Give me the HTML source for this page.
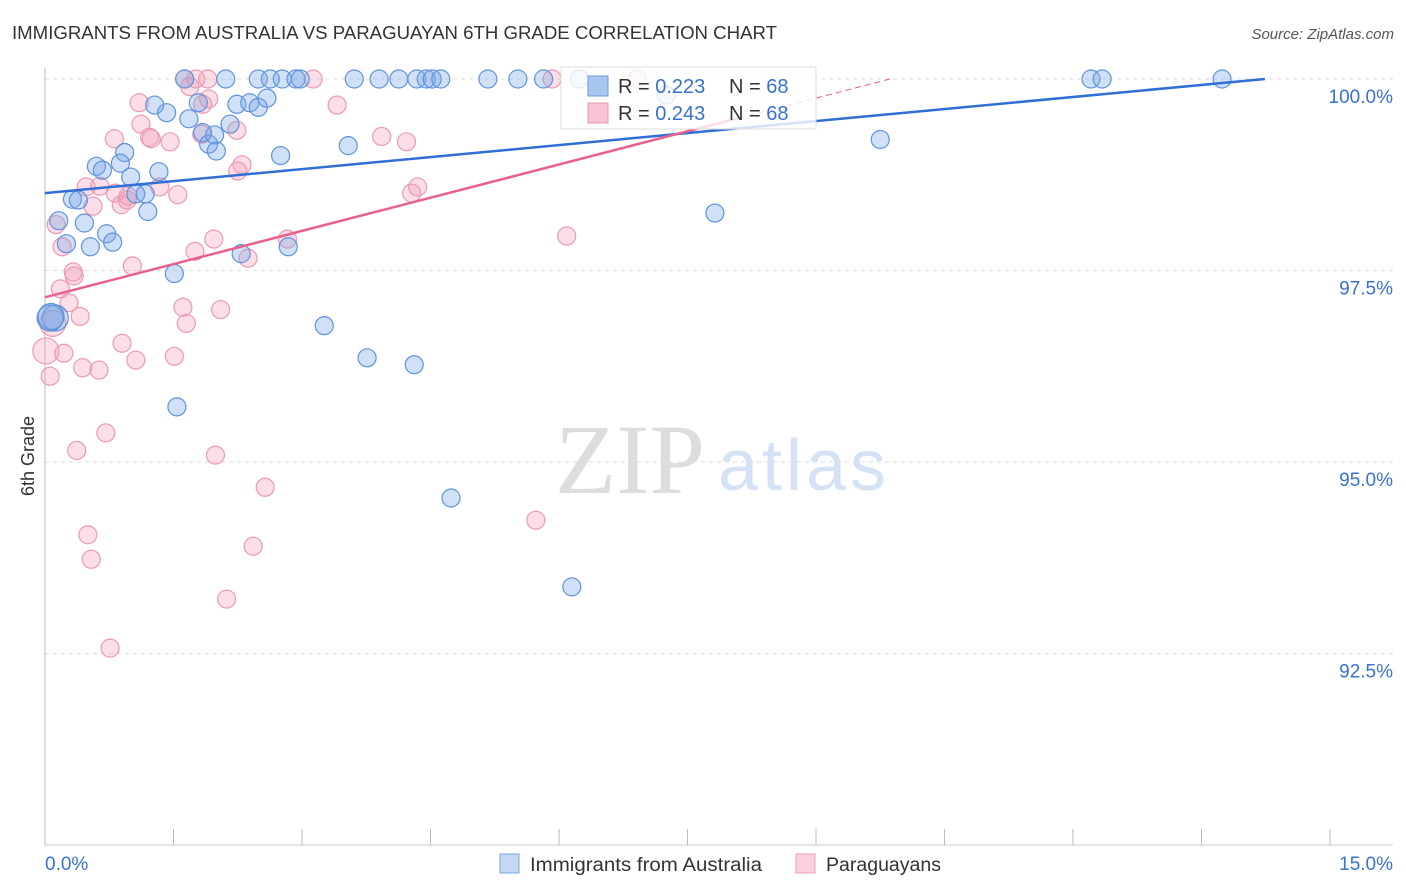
<!DOCTYPE html>
<html><head><meta charset="utf-8"><style>
body{margin:0;background:#fff;font-family:"Liberation Sans",sans-serif;}
#wrap{position:relative;width:1406px;height:892px;overflow:hidden;}
</style></head><body>
<div id="wrap">
<svg id="chart" width="1406" height="892">
<text x="12" y="39" font-size="18" fill="#333" textLength="765" lengthAdjust="spacingAndGlyphs">IMMIGRANTS FROM AUSTRALIA VS PARAGUAYAN 6TH GRADE CORRELATION CHART</text>
<text x="1394" y="39" font-size="15" fill="#555" font-style="italic" text-anchor="end">Source: ZipAtlas.com</text>
<text x="34" y="456" font-size="18" fill="#333" transform="rotate(-90 34 456)" text-anchor="middle">6th Grade</text>
<text x="555" y="493" font-size="100" fill="#ddd" font-family="Liberation Serif,serif">ZIP</text>
<text x="718" y="490" font-size="72" fill="#d5e2f5" textLength="168">atlas</text>
<g id="grid"></g><g id="pts"></g><g id="trend"></g>
<g>
<rect x="561" y="67" width="255" height="62" fill="#fff" fill-opacity="0.8" stroke="#ddd"/>
<rect x="588" y="76" width="20" height="20" fill="#a9c6ef" stroke="#6d9be0"/>
<rect x="588" y="103" width="20" height="20" fill="#f8c4d3" stroke="#e994ad"/>
<text x="618" y="93" font-size="20" fill="#333">R = <tspan fill="#3a70d0">0.223</tspan><tspan x="729">N = </tspan><tspan fill="#3a70d0">68</tspan></text>
<text x="618" y="120" font-size="20" fill="#333">R = <tspan fill="#3a70d0">0.243</tspan><tspan x="729">N = </tspan><tspan fill="#3a70d0">68</tspan></text>
</g>
<text x="45" y="870" font-size="19" fill="#3a70d0">0.0%</text>
<text x="1393" y="870" font-size="19" fill="#3a70d0" text-anchor="end">15.0%</text>
<rect x="500" y="854" width="19" height="19" fill="#c4d8f5" stroke="#7aa4e2"/>
<text x="530" y="871" font-size="19" fill="#333" textLength="232" lengthAdjust="spacingAndGlyphs">Immigrants from Australia</text>
<rect x="796" y="854" width="19" height="19" fill="#fad0dc" stroke="#ec9cb4"/>
<text x="826" y="871" font-size="19" fill="#333" textLength="115" lengthAdjust="spacingAndGlyphs">Paraguayans</text>
</svg></div>
<script>
const yTicks=[100,97.5,95,92.5];
const yTickLabels=["100.0%","97.5%","95.0%","92.5%"];
const blueX=[1.63,2.11,2.49,2.63,2.77,2.93,2.98,3.61,3.90,4.13,4.34,4.45,4.52,4.62,5.17,5.52,5.82,6.24,12.21,12.34,13.74,1.28,1.42,1.79,2.24,2.39,2.49,2.59,1.68,1.84,1.91,2.00,2.16,2.75,3.54,9.75,0.93,0.60,0.67,0.88,1.00,1.33,0.32,0.39,1.06,1.17,1.20,0.16,0.46,0.72,0.79,0.25,0.53,2.29,2.84,1.51,7.82,0.12,0.06,3.26,3.76,4.31,1.54,4.74,6.15,0.07,7.25,1.98];
const blueY=[100,100,100,100,100,100,100,100,100,100,100,100,100,100,100,100,100,100,100,100,100,99.66,99.56,99.69,99.67,99.69,99.63,99.75,99.48,99.30,99.15,99.06,99.41,99.00,99.13,99.21,99.04,98.86,98.81,98.90,98.72,98.79,98.43,98.42,98.50,98.50,98.27,98.15,98.12,97.98,97.87,97.85,97.81,97.72,97.81,97.46,98.25,96.88,96.88,96.78,96.36,96.27,95.72,94.53,93.37,96.90,99.79,99.27];
const pinkX=[1.63,1.90,3.13,5.92,6.91,1.69,1.91,1.10,1.84,3.41,1.12,0.81,1.24,1.46,1.22,1.83,2.24,3.93,4.22,2.30,2.25,0.48,0.64,0.82,1.34,1.55,0.89,0.56,0.96,0.97,4.28,4.35,0.13,0.20,0.34,0.33,0.18,0.28,1.02,1.75,1.97,2.37,2.83,6.09,1.61,1.65,2.05,0.41,0.09,0.01,0.22,0.06,0.44,0.63,0.90,1.06,1.51,0.37,0.71,1.99,2.57,0.50,0.54,2.43,2.12,0.76,5.73,1.76];
const pinkY=[100,100,100,100,100,99.90,99.74,99.69,99.67,99.66,99.41,99.22,99.22,99.18,99.24,99.28,99.33,99.25,99.18,98.88,98.80,98.59,98.60,98.51,98.59,98.49,98.36,98.34,98.42,98.47,98.51,98.59,98.10,97.81,97.43,97.48,97.26,97.08,97.56,97.75,97.91,97.66,97.91,97.95,97.02,96.81,96.99,96.90,96.81,96.45,96.42,96.12,96.23,96.20,96.55,96.33,96.38,95.15,95.38,95.09,94.67,94.05,93.73,93.90,93.21,92.57,94.24,100];
const blueTrend=[98.51,0.1046];
const pinkTrend=[97.15,0.289];
const NS="http://www.w3.org/2000/svg";
const X0=45,X1=1330,Y0=79,Y1=845;
function sx(v){return X0+(v/15)*(X1-X0);}
function sy(v){return Y0+(100-v)/10*(Y1-Y0);}
function mk(tag,attrs,parent){const e=document.createElementNS(NS,tag);for(const k in attrs)e.setAttribute(k,attrs[k]);parent.appendChild(e);return e;}
const grid=document.getElementById('grid');
yTicks.forEach((t,i)=>{
 const l=mk('line',{x1:X0,x2:1393,y1:sy(t),y2:sy(t),stroke:'#ddd','stroke-dasharray':'4,4'},grid);
 
 
 const tx=mk('text',{x:1393,y:sy(t)+24,'font-size':19,fill:'#3a70d0','text-anchor':'end'},grid);
 tx.textContent=yTickLabels[i];
 
 
});
const ax=mk('line',{x1:X0,x2:X0,y1:68,y2:Y1,stroke:'#bbb'},grid);


const bx=mk('line',{x1:X0,x2:1393,y1:Y1,y2:Y1,stroke:'#ccc'},grid);


for(let i=0;i<=10;i++){const v=i*1.5;
 const tk=mk('line',{x1:sx(v),x2:sx(v),y1:829,y2:Y1,stroke:'#bbb'},grid);
 
 }
const pts=document.getElementById('pts');
function drawPts(xs,ys,fill,stroke,name){
 xs.forEach((x,i)=>{const big=(x<0.15&&ys[i]>96.7&&ys[i]<97)||(x<0.02&&ys[i]>96.4&&ys[i]<96.5);
  const c=mk('circle',{cx:sx(x),cy:sy(ys[i]),r:big?13:9,fill:fill,stroke:stroke,'stroke-width':1.2},pts);
  
  });
}
drawPts(pinkX,pinkY,'rgba(244,160,185,0.35)','#eb9ab2','paraguayan-point');
drawPts(blueX,blueY,'rgba(120,165,230,0.35)','#5f93dc','australia-point');
const tr=document.getElementById('trend');
let b=mk('line',{x1:sx(0),y1:sy(blueTrend[0]),x2:sx(14.24),y2:sy(blueTrend[0]+blueTrend[1]*14.24),stroke:'#2f6fd6','stroke-width':2.5},tr);


let p=mk('line',{x1:sx(0),y1:sy(pinkTrend[0]),x2:sx(8.1),y2:sy(pinkTrend[0]+pinkTrend[1]*8.1),stroke:'#e8608c','stroke-width':2.5},tr);


let pd=mk('line',{x1:sx(8.1),y1:sy(pinkTrend[0]+pinkTrend[1]*8.1),x2:sx(9.86),y2:sy(pinkTrend[0]+pinkTrend[1]*9.86),stroke:'#e8608c','stroke-width':1,'stroke-dasharray':'6,4'},tr);


</script>
</body></html>
